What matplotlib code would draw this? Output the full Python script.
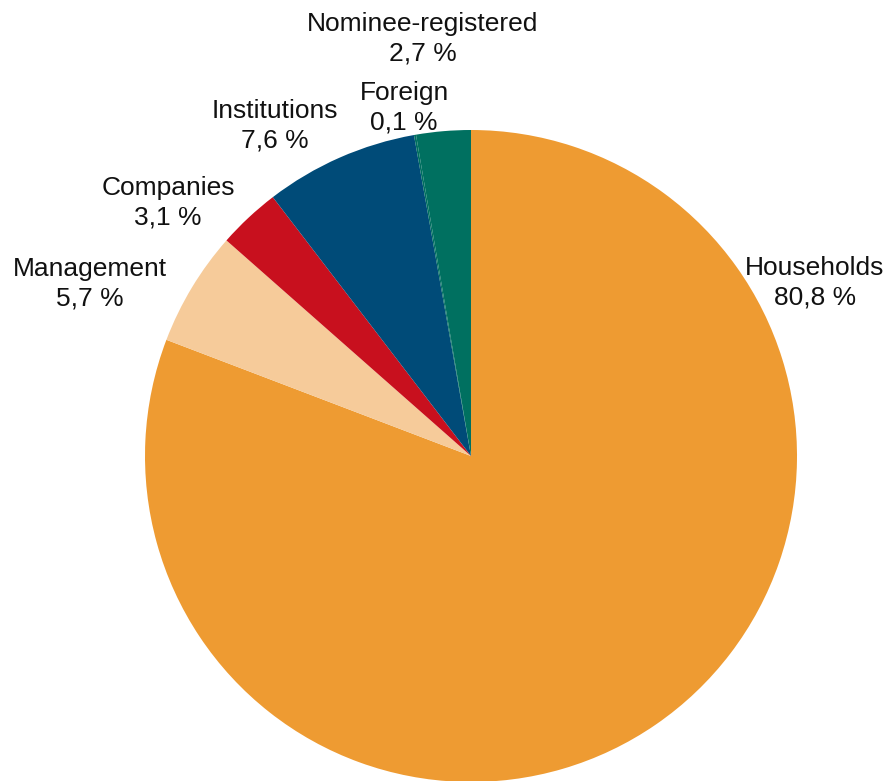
import matplotlib
matplotlib.use("Agg")
import matplotlib.pyplot as plt

plt.rcParams['font.family'] = ['Liberation Sans', 'DejaVu Sans']

# Ownership structure by shareholder group
categories = ["Households", "Management", "Companies", "Institutions", "Foreign", "Nominee-registered"]
shares = [80.8, 5.7, 3.1, 7.6, 0.1, 2.7]
colors = ["#EE9B32", "#F6CB9A", "#C8101E", "#004B78", "#006F5F", "#007060"]

# Label anchor points (pixel coordinates, origin at top-left)
label_pos = [(815, 283), (90, 284), (168, 203), (275, 126), (404, 108), (423, 39)]

W, H = 889, 781
fig = plt.figure(figsize=(W / 100, H / 100), dpi=100)
ax = fig.add_axes([0, 0, 1, 1])

cx, cy, r = 471, 456, 326
ax.pie(shares, colors=colors, startangle=90, counterclock=False,
       center=(cx, H - cy), radius=r,
       wedgeprops=dict(linewidth=0, edgecolor="none", antialiased=True))

for name, val, (px, py) in zip(categories, shares, label_pos):
    txt = f"{name}\n{val:.1f} %".replace(".", ",")
    ax.text(px, H - py, txt, ha="center", va="center", fontsize=19,
            color="#111111", linespacing=1.28)

ax.set_xlim(0, W)
ax.set_ylim(0, H)
ax.set_aspect("auto")
ax.axis("off")

fig.savefig("out.png", dpi=100, facecolor="white")
